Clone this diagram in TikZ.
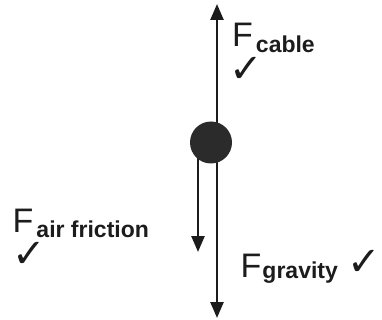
\documentclass[tikz,border=0pt]{standalone}
\usepackage{fontspec}
\setmainfont{Liberation Sans}
\newfontfamily\checkfont{DejaVu Sans}
\usepackage{xcolor}
\usetikzlibrary{arrows.meta, positioning, backgrounds}
\definecolor{InkBlack}{HTML}{1C1C1C}
\definecolor{BallGray}{HTML}{2B2B2B}
\newcommand{\forcename}[3]{{\fontsize{34}{34}\selectfont F}\kern#3\raisebox{-#2}{\fontsize{23}{23}\selectfont\bfseries #1}}

\begin{document}
\begin{tikzpicture}[
            x=1pt, y=-1pt,
            force/.style = {draw=InkBlack, line width=2.5pt, -{Triangle[length=16pt, width=13pt]}},
            ball/.style = {circle, fill=BallGray, minimum size=42pt, inner sep=0pt},
            forcelabel/.style = {anchor=base west, inner sep=0pt, text=InkBlack},
            checkmark/.style = {inner sep=0pt, text=InkBlack, font=\checkfont\bfseries\fontsize{40}{40}\selectfont}
        ]
            \useasboundingbox (0,0) rectangle (382,320);
            \node [ball] (mass) at (211,142.5) {};
            \coordinate (cabletip) at (217,4);
            \coordinate (gravitytip) at (217,318);
            \coordinate (frictiontip) at (198,252);

            \node [forcelabel] (cable) at (232,47) {\forcename{cable}{6pt}{3pt}};
            \node [forcelabel] (friction) at (12.5,232) {\forcename{air friction}{5pt}{3pt}};
            \node [forcelabel] (gravity) at (240.5,277) {\forcename{gravity}{1pt}{1pt}};
            \node [checkmark] (cablecheck) at (246.5,70) {✓};
            \node [checkmark] (frictioncheck) at (29,255) {✓};
            \node [checkmark] (gravitycheck) at (364,262.5) {✓};

            \begin{scope}[on background layer]
                \draw [force] (mass.center -| cabletip) -- (cabletip);
                \draw [force] (mass.center -| gravitytip) -- (gravitytip);
                \draw [force] (mass.center -| frictiontip) -- (frictiontip);
            \end{scope}
        \end{tikzpicture}
\end{document}
